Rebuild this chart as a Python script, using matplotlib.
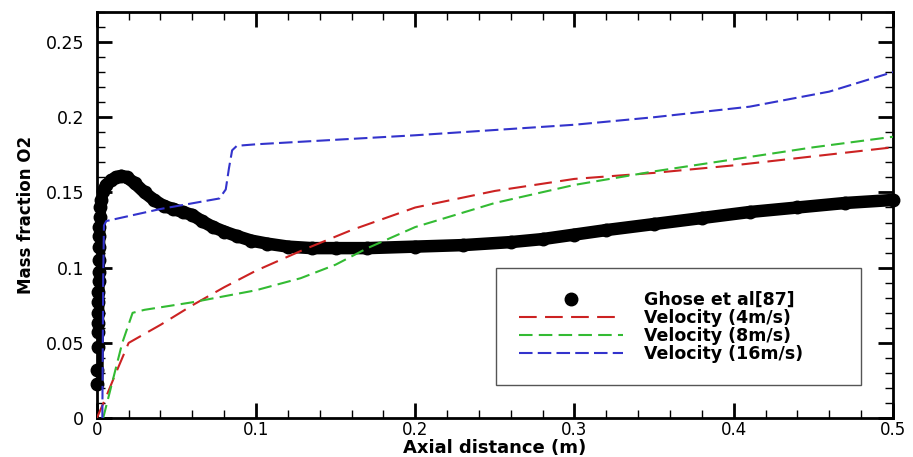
import matplotlib
matplotlib.use("Agg")
import matplotlib.pyplot as plt
from matplotlib.ticker import MultipleLocator, FormatStrFormatter

plt.rcParams['font.family'] = ['DejaVu Sans']

# Ghose et al [87] (symbols)
ghose_x = [0.0003, 0.0004, 0.0005, 0.0006, 0.0007, 0.0008, 0.0009, 0.001, 0.0011,
           0.0012, 0.0013, 0.0014, 0.0015, 0.0016, 0.0018, 0.002, 0.0025, 0.004,
           0.006, 0.009, 0.012, 0.0155, 0.019, 0.024, 0.03, 0.036, 0.042, 0.048,
           0.054, 0.06, 0.066, 0.073, 0.08, 0.088, 0.097, 0.107, 0.12, 0.135,
           0.15, 0.17, 0.2, 0.23, 0.26, 0.28, 0.3, 0.32, 0.35, 0.38, 0.41, 0.44,
           0.47, 0.5]
ghose_y = [0.023, 0.032, 0.047, 0.057, 0.063, 0.070, 0.077, 0.084, 0.091,
           0.097, 0.105, 0.114, 0.121, 0.127, 0.134, 0.140, 0.145, 0.151,
           0.155, 0.158, 0.160, 0.161, 0.160, 0.156, 0.150, 0.145, 0.141, 0.139,
           0.137, 0.135, 0.131, 0.127, 0.124, 0.121, 0.118, 0.116, 0.114, 0.113,
           0.113, 0.113, 0.114, 0.115, 0.117, 0.119, 0.122, 0.125, 0.129, 0.133,
           0.137, 0.140, 0.143, 0.145]

# Velocity 4 m/s
v4_x = [0.0, 0.005, 0.012, 0.02, 0.04, 0.06, 0.08, 0.1, 0.13, 0.16, 0.2,
        0.25, 0.3, 0.35, 0.4, 0.45, 0.5]
v4_y = [0.0, 0.012, 0.03, 0.05, 0.062, 0.075, 0.087, 0.098, 0.112, 0.125, 0.14,
        0.151, 0.159, 0.163, 0.168, 0.174, 0.18]

# Velocity 8 m/s
v8_x = [0.004, 0.01, 0.016, 0.0225, 0.03, 0.06, 0.1, 0.128, 0.15, 0.17, 0.2,
        0.25, 0.3, 0.35, 0.4, 0.45, 0.5]
v8_y = [0.0, 0.025, 0.05, 0.07, 0.072, 0.077, 0.085, 0.093, 0.102, 0.113, 0.127,
        0.143, 0.155, 0.164, 0.172, 0.18, 0.187]

# Velocity 16 m/s
v16_x = [0.0035, 0.004, 0.0045, 0.006, 0.04, 0.077, 0.081, 0.083, 0.085, 0.088,
         0.1, 0.2, 0.3, 0.35, 0.41, 0.46, 0.5]
v16_y = [0.0, 0.09, 0.128, 0.131, 0.139, 0.146, 0.152, 0.166, 0.178, 0.181,
         0.182, 0.188, 0.195, 0.2, 0.207, 0.217, 0.23]

fig = plt.figure(figsize=(9.13, 4.57), dpi=100)
ax = fig.add_axes([0.106, 0.085, 0.872, 0.889])

ax.plot(ghose_x, ghose_y, color='black', lw=9, solid_capstyle='round',
        solid_joinstyle='round', zorder=2)
ax.plot(ghose_x, ghose_y, 'o', color='black', ms=9, zorder=2, clip_on=False,
        label='Ghose et al[87]')
ax.plot(v4_x, v4_y, color='#cc2222', lw=1.5, dashes=(8.5, 4),
        label='Velocity (4m/s)', zorder=3)
ax.plot(v8_x, v8_y, color='#33bb33', lw=1.5, dashes=(6.5, 3),
        label='Velocity (8m/s)', zorder=3)
ax.plot(v16_x, v16_y, color='#3333cc', lw=1.5, dashes=(6.5, 2.5),
        label='Velocity (16m/s)', zorder=3)

ax.set_xlim(0, 0.5)
ax.set_ylim(0, 0.27)
ax.xaxis.set_major_locator(MultipleLocator(0.1))
ax.xaxis.set_minor_locator(MultipleLocator(0.02))
ax.yaxis.set_major_locator(MultipleLocator(0.05))
ax.yaxis.set_minor_locator(MultipleLocator(0.01))
ax.xaxis.set_major_formatter(FormatStrFormatter('%g'))
ax.yaxis.set_major_formatter(FormatStrFormatter('%g'))
ax.tick_params(which='both', direction='in', top=True, right=True)
ax.tick_params(which='major', length=11, width=2)
ax.tick_params(which='minor', length=6, width=1)
ax.tick_params(axis='y', which='major', pad=9, labelsize=12.5)
ax.tick_params(axis='x', which='major', pad=2, labelsize=12)
for s in ax.spines.values():
    s.set_linewidth(2)

ax.set_xlabel('Axial distance (m)', fontsize=13, fontweight='bold', labelpad=0)
ax.set_ylabel('Mass fraction O2', fontsize=12, fontweight='bold', labelpad=8)

leg = ax.legend(loc='lower left', bbox_to_anchor=(0.502, 0.081, 0.458, 0.3),
                mode='expand', numpoints=1, handlelength=6.0,
                prop={'weight': 'bold', 'size': 12.5}, fancybox=False,
                framealpha=1, edgecolor='#555555', borderpad=1.3,
                labelspacing=0.0, handletextpad=1.2, borderaxespad=0)
leg.get_frame().set_linewidth(1)

fig.savefig('out.png', dpi=100)
